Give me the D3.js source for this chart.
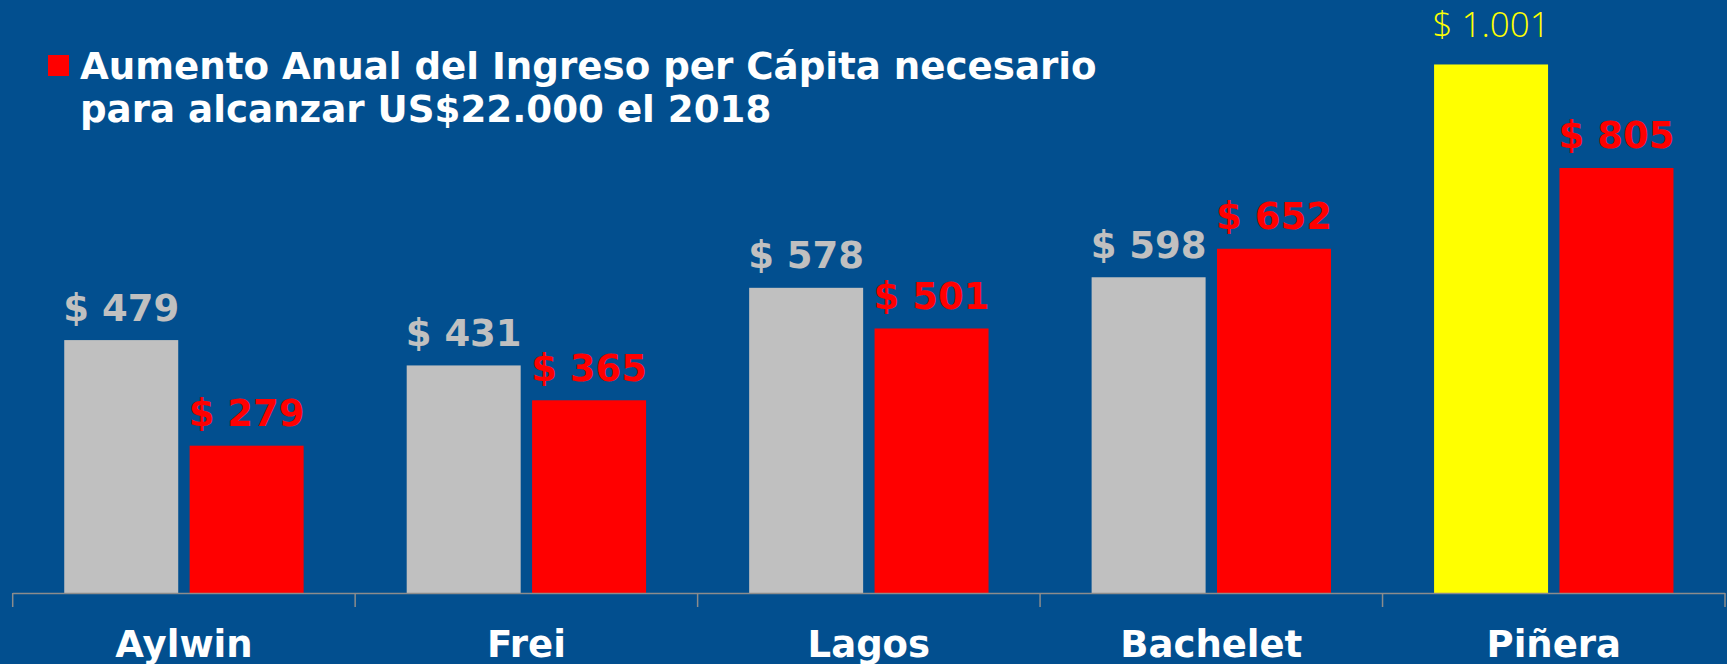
<!DOCTYPE html>
<html>
<head>
<meta charset="utf-8">
<script src="https://cdn.jsdelivr.net/npm/d3@7"></script>
<style>
  html, body { margin: 0; padding: 0; background: #024f8f; overflow: hidden; }
  svg { display: block; }
</style>
</head>
<body>
<svg id="chart"></svg>
<script>
// datos
const categories = ['Aylwin', 'Frei', 'Lagos', 'Bachelet', 'Piñera'];
const aumentoReal = [479, 431, 578, 598, 1001];
const aumentoNecesario = [279, 365, 501, 652, 805];
const legendLines = ['Aumento Anual del Ingreso per Cápita necesario', 'para alcanzar US$22.000 el 2018'];

const W = 1727, H = 664;
const font = 'Verdana, "DejaVu Sans", sans-serif';

const svg = d3.select('#chart').attr('width', W).attr('height', H);
svg.append('rect').attr('width', W).attr('height', H).attr('fill', '#024f8f');

// scales
const x = d3.scaleBand().domain(categories).range([12.7, 1725]).padding(0);
const xs = d3.scaleBand().domain([0, 1]).range([0, x.bandwidth()]).paddingInner(0.091).paddingOuter(0.411);
const y = d3.scaleLinear().domain([0, 1000]).range([593, 65]);

const fmt = v => '$ ' + d3.format(',')(v).replace(/,/g, '.');

const rows = categories.map((c, i) => ({ cat: c, real: aumentoReal[i], nec: aumentoNecesario[i], last: i === categories.length - 1 }));

const g = svg.append('g');

// barras grises (amarilla para el ultimo)
g.selectAll('.real').data(rows).join('rect')
  .attr('class', 'real')
  .attr('x', d => x(d.cat) + xs(0))
  .attr('y', d => y(d.real))
  .attr('width', xs.bandwidth())
  .attr('height', d => y(0) - y(d.real))
  .attr('fill', d => d.last ? '#ffff00' : '#c0c0c0');

// barras rojas
g.selectAll('.nec').data(rows).join('rect')
  .attr('class', 'nec')
  .attr('x', d => x(d.cat) + xs(1))
  .attr('y', d => y(d.nec))
  .attr('width', xs.bandwidth())
  .attr('height', d => y(0) - y(d.nec))
  .attr('fill', '#ff0000');

// etiquetas de valor
g.selectAll('.lblReal').data(rows).join('text')
  .attr('x', d => x(d.cat) + xs(0) + xs.bandwidth() / 2)
  .attr('y', d => y(d.real) - (d.last ? 27 : 19.5))
  .attr('text-anchor', 'middle')
  .attr('font-family', d => d.last ? '"Open Sans", Lato, "Noto Sans", sans-serif' : font)
  .attr('font-weight', d => d.last ? 300 : 'bold')
  .attr('font-size', d => d.last ? 35 : 37)
  .attr('fill', d => d.last ? '#ffff00' : '#c0c0c0')
  .text(d => fmt(d.real));

g.selectAll('.lblNec').data(rows).join('text')
  .attr('x', d => x(d.cat) + xs(1) + xs.bandwidth() / 2)
  .attr('y', d => y(d.nec) - 19.5)
  .attr('text-anchor', 'middle')
  .attr('font-family', font)
  .attr('font-weight', 'bold')
  .attr('font-size', 37)
  .attr('fill', '#ff0000')
  .text(d => fmt(d.nec));

// eje
const axis = svg.append('g');
axis.append('line')
  .attr('x1', x.range()[0]).attr('x2', x.range()[1])
  .attr('y1', y(0) + 0.5).attr('y2', y(0) + 0.5)
  .attr('stroke', '#8c8c8c').attr('stroke-width', 1.5);
const bounds = categories.map(c => x(c)).concat([x.range()[1]]);
axis.selectAll('.tick').data(bounds).join('line')
  .attr('x1', d => d).attr('x2', d => d)
  .attr('y1', y(0)).attr('y2', y(0) + 14)
  .attr('stroke', '#8c8c8c').attr('stroke-width', 1.5);
axis.selectAll('.cat').data(categories).join('text')
  .attr('x', d => x(d) + x.bandwidth() / 2)
  .attr('y', 657)
  .attr('text-anchor', 'middle')
  .attr('font-family', font)
  .attr('font-weight', 'bold')
  .attr('font-size', 37)
  .attr('fill', '#ffffff')
  .text(d => d);

// leyenda
svg.append('rect').attr('x', 48).attr('y', 55).attr('width', 21).attr('height', 21).attr('fill', '#ff0000');
const leg = svg.append('text')
  .attr('font-family', font)
  .attr('font-weight', 'bold')
  .attr('font-size', 37.2)
  .attr('fill', '#ffffff');
leg.selectAll('tspan').data(legendLines).join('tspan')
  .attr('x', 80)
  .attr('y', (d, i) => 79 + i * 43.4)
  .text(d => d);
</script>
</body>
</html>
